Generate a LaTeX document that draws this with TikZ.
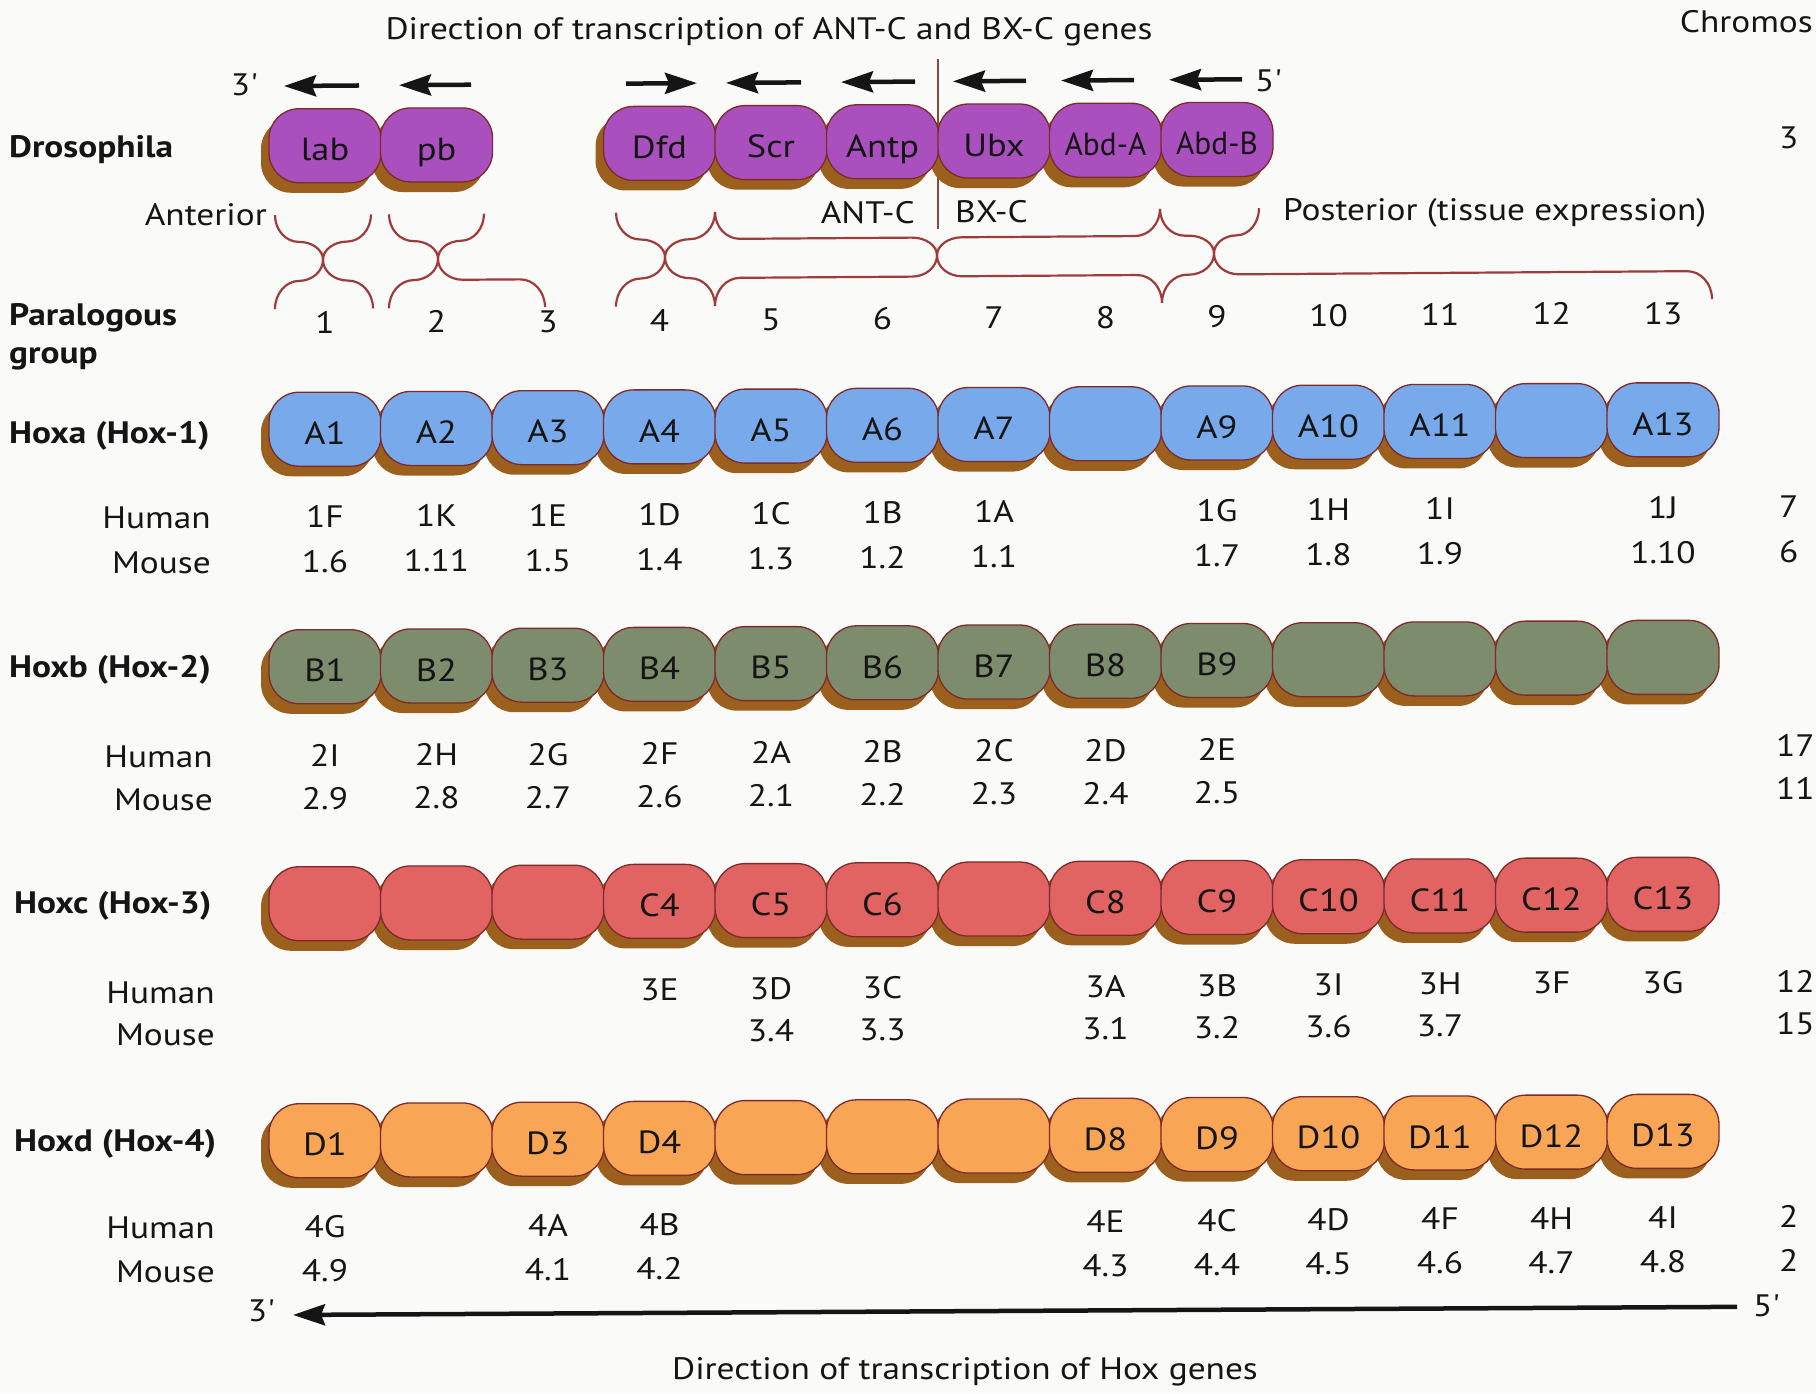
\documentclass[tikz,border=0pt]{standalone}
\usepackage{fontspec}
\usepackage{graphicx}
\setmainfont{PT Sans}[FakeStretch=1.14]
\usetikzlibrary{arrows.meta}
\definecolor{bg}{HTML}{FAFAF8}
\definecolor{dros}{HTML}{AA50BE}
\definecolor{hoxA}{HTML}{78AAEB}
\definecolor{hoxB}{HTML}{7D8C6C}
\definecolor{hoxC}{HTML}{E16462}
\definecolor{hoxD}{HTML}{F8A555}
\definecolor{shad}{HTML}{9B5F1E}
\definecolor{outl}{HTML}{7E2A2A}
\definecolor{brc}{HTML}{9E3C3C}
\definecolor{vline}{HTML}{8A4A3A}
\definecolor{ink}{HTML}{151515}
\newcommand\bodyfont{\fontsize{31}{36}\selectfont}
\newcommand\genefont{\fontsize{32}{36}\selectfont}
\newcommand\narrow[1]{\scalebox{0.86}[1]{#1}}
\newcommand\hoxbrace[6]{%
  \pgfmathsetmacro\rA{min(25,(#2-#1)/2)}%
  \pgfmathsetmacro\rB{min(25,(#3-#2)/2)}%
  \pgfmathsetmacro\kT{#4+0.552*(#5-#4)}%
  \pgfmathsetmacro\kP{#6-0.552*(#6-#5)}%
  \draw[bracestyle] (#1,#4) .. controls (#1,\kT) and ({#1+0.448*\rA},#5) .. ({#1+\rA},#5)
    -- ({#2-\rA},#5) .. controls ({#2-0.448*\rA},#5) and (#2,\kP) .. (#2,#6)
    .. controls (#2,\kP) and ({#2+0.448*\rB},#5) .. ({#2+\rB},#5)
    -- ({#3-\rB},#5) .. controls ({#3-0.448*\rB},#5) and (#3,\kT) .. (#3,#4);
}
\newcommand\generow[4]{%
  \foreach \g [count=\i] in {#4} {
    \node[shadowbox] (s#1\i) at ({325+(\i-1)*111.5-8},{#2+10}) {};
  }
  \foreach \g [count=\i] in {#4} {
    \node[gene, fill=#3] (#1\i) at ({325+(\i-1)*111.5},#2) {\g};
  }
}
\newcommand\valrow[3]{%
  \foreach \c/\v in {#3} {
    \node[val] (#1\c) at ({325+(\c-1)*111.5},#2) {\v};
  }
}
\begin{document}
\begin{tikzpicture}[x=1pt,y=-1pt,
  gene/.style={draw=outl, line width=1.3pt, rounded corners=30pt, minimum width=112pt,
     minimum height=74pt, inner sep=0pt, font=\genefont, text=ink, text height=30.4pt, text depth=0pt},
  shadowbox/.style={fill=shad, rounded corners=30pt, minimum width=112pt, minimum height=74pt, inner sep=0pt},
  val/.style={font=\bodyfont, text=ink, inner sep=0pt, text height=21.7pt, text depth=0pt},
  txt/.style={font=\bodyfont, text=ink, inner sep=0pt},
  lbl/.style={font=\bodyfont\bfseries, text=ink, inner sep=0pt, anchor=base west},
  bracestyle/.style={draw=brc, line width=2.2pt},
  toparrow/.style={draw=ink, line width=4.5pt, -{Stealth[length=32pt,width=21pt,inset=4pt]}},
  botarrow/.style={draw=ink, line width=4.5pt, -{Stealth[length=32pt,width=21pt,inset=4pt]}}
]
\useasboundingbox (0,0) rectangle (1816,1393);
\fill[bg] (0,0) rectangle (1816,1393);
\clip (0,0) rectangle (1816,1393);
\begin{scope}[yslant=0.007]
% titles
\node[txt, anchor=base] (title) at (769,45) {Direction of transcription of ANT-C and BX-C genes};
\node[txt, anchor=base east] (chrom) at (1813,45) {Chromos};
% top arrows
\node[txt] (tp3) at (244,87) {3\textquotesingle};
\node[txt] (tp5) at (1268,90) {5\textquotesingle};
\foreach \s/\e [count=\k] in {359/284,471/399,626/697,801/726,915/841,1026/953,1134/1061,1242/1169} {
  \coordinate (tas\k) at (\s,88);
  \coordinate (tae\k) at (\e,88);
  \draw[toparrow] (tas\k) -- (tae\k);
}
% separator ANT-C / BX-C
\coordinate (sepT) at (938,66);
\coordinate (sepB) at (938,236);
\draw[vline, line width=1.8pt] (sepT) -- (sepB);
% Drosophila row
\node[lbl] (ldros) at (9,157.5) {Drosophila};
\foreach \c/\g in {1/lab,2/pb,4/Dfd,5/Scr,6/Antp,7/Ubx,8/\narrow{Abd-A},9/\narrow{Abd-B}} {
  \node[shadowbox] (sd\c) at ({325+(\c-1)*111.5-8},158) {};
}
\foreach \c/\g in {1/lab,2/pb,4/Dfd,5/Scr,6/Antp,7/Ubx,8/\narrow{Abd-A},9/\narrow{Abd-B}} {
  \node[gene, fill=dros] (d\c) at ({325+(\c-1)*111.5},148) {\g};
}
\node[val, anchor=west] (chr0) at (1779,150) {3};
% labels under drosophila
\node[txt, anchor=base east] (ant) at (267,227) {Anterior};
\node[txt, anchor=base east] (antc) at (915,229.5) {ANT-C};
\node[txt, anchor=base west] (bxc) at (955,229.5) {BX-C};
\node[txt, anchor=base west] (post) at (1283,229.5) {Posterior (tissue expression)};
% braces
\hoxbrace{275}{323}{371}{217}{244}{262}
\hoxbrace{389}{438}{484}{217}{244}{262}
\hoxbrace{616}{665}{715}{217}{244}{262}
\hoxbrace{715}{937}{1160}{217}{244}{262}
\hoxbrace{1160}{1214}{1259}{217}{244}{262}
\hoxbrace{275}{323}{373}{311}{283}{262}
\hoxbrace{389}{438}{545}{311}{283}{262}
\hoxbrace{616}{665}{715}{311}{283}{262}
\hoxbrace{715}{937}{1162}{311}{283}{262}
\hoxbrace{1162}{1214}{1712}{311}{283}{262}
% paralogous groups
\node[lbl] (lpar1) at (9,325.5) {Paralogous};
\node[lbl] (lpar2) at (9,363.5) {group};
\foreach \i in {1,...,13} {
  \node[val] (pg\i) at ({325+(\i-1)*111.5},325) {\i};
}
% Hoxa
\node[lbl] (la) at (9,444) {Hoxa (Hox-1)};
\generow{a}{431.5}{hoxA}{A1,A2,A3,A4,A5,A6,A7,{},A9,A10,A11,{},A13}
\node[val, anchor=east] (ha) at (211,519) {Human};
\node[val, anchor=east] (ma) at (211,564) {Mouse};
\valrow{hav}{519}{1/1F,2/1K,3/1E,4/1D,5/1C,6/1B,7/1A,9/1G,10/1H,11/1I,13/1J}
\valrow{mav}{564}{1/1.6,2/1.11,3/1.5,4/1.4,5/1.3,6/1.2,7/1.1,9/1.7,10/1.8,11/1.9,13/1.10}
\node[val, anchor=west] (chra1) at (1779,519) {7};
\node[val, anchor=west] (chra2) at (1779,564) {6};
% Hoxb
\node[lbl] (lb) at (9,678) {Hoxb (Hox-2)};
\generow{b}{669}{hoxB}{B1,B2,B3,B4,B5,B6,B7,B8,B9,{},{},{},{}}
\node[val, anchor=east] (hb) at (213,758) {Human};
\node[val, anchor=east] (mb) at (213,801) {Mouse};
\valrow{hbv}{758}{1/2I,2/2H,3/2G,4/2F,5/2A,6/2B,7/2C,8/2D,9/2E}
\valrow{mbv}{801}{1/2.9,2/2.8,3/2.7,4/2.6,5/2.1,6/2.2,7/2.3,8/2.4,9/2.5}
\node[val, anchor=west] (chrb1) at (1776,758) {17};
\node[val, anchor=west] (chrb2) at (1776,801) {11};
% Hoxc
\node[lbl] (lc) at (14,914) {Hoxc (Hox-3)};
\generow{c}{906}{hoxC}{{},{},{},C4,C5,C6,{},C8,C9,C10,C11,C12,C13}
\node[val, anchor=east] (hc) at (215,994) {Human};
\node[val, anchor=east] (mc) at (215,1036) {Mouse};
\valrow{hcv}{994}{4/3E,5/3D,6/3C,8/3A,9/3B,10/3I,11/3H,12/3F,13/3G}
\valrow{mcv}{1036}{5/3.4,6/3.3,8/3.1,9/3.2,10/3.6,11/3.7}
\node[val, anchor=west] (chrc1) at (1776,994) {12};
\node[val, anchor=west] (chrc2) at (1776,1036) {15};
% Hoxd
\node[lbl] (ld) at (14,1152) {Hoxd (Hox-4)};
\generow{e}{1143}{hoxD}{D1,{},D3,D4,{},{},{},D8,D9,D10,D11,D12,D13}
\node[val, anchor=east] (hd) at (215,1229) {Human};
\node[val, anchor=east] (md) at (215,1273) {Mouse};
\valrow{hdv}{1229}{1/4G,3/4A,4/4B,8/4E,9/4C,10/4D,11/4F,12/4H,13/4I}
\valrow{mdv}{1273}{1/4.9,3/4.1,4/4.2,8/4.3,9/4.4,10/4.5,11/4.6,12/4.7,13/4.8}
\node[val, anchor=west] (chrd1) at (1779,1229) {2};
\node[val, anchor=west] (chrd2) at (1779,1273) {2};
% bottom arrow
\node[txt] (bp3) at (261,1313) {3\textquotesingle};
\node[txt] (bp5) at (1766,1318) {5\textquotesingle};
\coordinate (arrR) at (1737,1319);
\coordinate (arrL) at (293,1317);
\draw[botarrow] (arrR) -- (arrL);
\node[txt, anchor=base] (bottitle) at (965,1386) {Direction of transcription of Hox genes};
\end{scope}
\end{tikzpicture}
\end{document}
